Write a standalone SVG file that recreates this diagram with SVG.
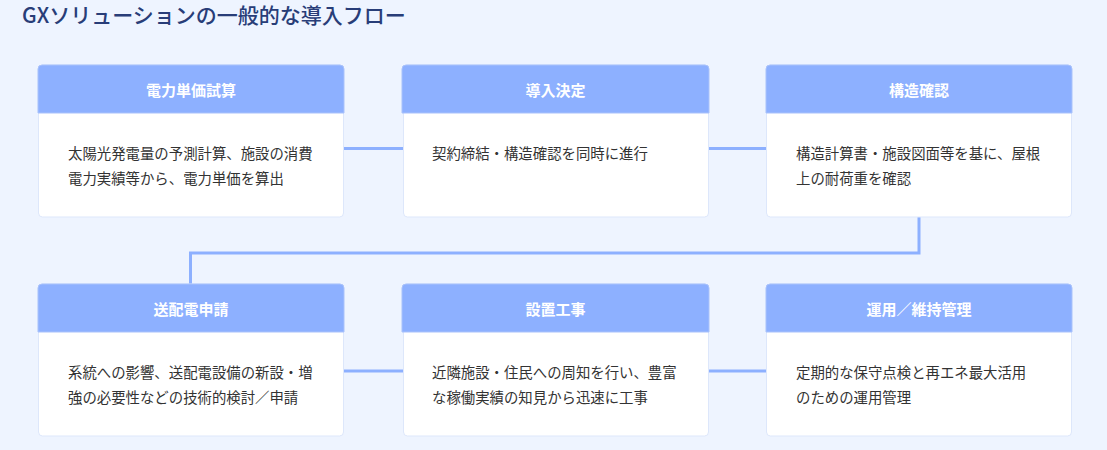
<svg xmlns="http://www.w3.org/2000/svg" width="1107" height="450" viewBox="0 0 1107 450">
<style>
.card{fill:#ffffff;stroke:#dde7fb;stroke-width:1}
.head{fill:#8db0ff;stroke:#a9c2fb;stroke-width:1}
.ht{font-family:"Noto Sans CJK JP","Noto Sans",sans-serif;font-size:15px;font-weight:700;fill:#ffffff;text-anchor:middle}
.bt{font-family:"Noto Sans CJK JP","Noto Sans",sans-serif;font-size:14.4px;fill:#333333}
.title{font-family:"Noto Sans CJK JP","Noto Sans",sans-serif;font-size:21px;font-weight:500;fill:#283d78}
.conn{fill:none;stroke:#8db0ff;stroke-width:3}
</style>
<rect x="0" y="0" width="1107" height="450" fill="#eef4ff"/>
<text class="title" x="22" y="23">GXソリューションの一般的な導入フロー</text>
<g id="connectors">
<line class="conn" x1="344" y1="148.5" x2="403" y2="148.5"/>
<line class="conn" x1="709" y1="148.5" x2="766" y2="148.5"/>
<polyline class="conn" points="919,217 919,253 190.5,253 190.5,284"/>
<line class="conn" x1="344" y1="371" x2="403" y2="371"/>
<line class="conn" x1="709" y1="371" x2="766" y2="371"/>
</g>
<g id="n1">
<rect class="card" x="38.5" y="65" width="305" height="152" rx="4"/>
<path class="head" d="M38,113 V69 a4,4 0 0 1 4,-4 H340 a4,4 0 0 1 4,4 V113 Z"/>
<text class="ht" x="191" y="96">電力単価試算</text>
<text class="bt" x="68" y="158.5">太陽光発電量の予測計算、施設の消費</text>
<text class="bt" x="68" y="183.5">電力実績等から、電力単価を算出</text>
</g>
<g id="n2">
<rect class="card" x="403.5" y="65" width="305" height="152" rx="4"/>
<path class="head" d="M402,113 V69 a4,4 0 0 1 4,-4 H705 a4,4 0 0 1 4,4 V113 Z"/>
<text class="ht" x="555.5" y="96">導入決定</text>
<text class="bt" x="432" y="158.5">契約締結・構造確認を同時に進行</text>
</g>
<g id="n3">
<rect class="card" x="766.5" y="65" width="305" height="152" rx="4"/>
<path class="head" d="M766,113 V69 a4,4 0 0 1 4,-4 H1068 a4,4 0 0 1 4,4 V113 Z"/>
<text class="ht" x="919" y="96">構造確認</text>
<text class="bt" x="796" y="158.5">構造計算書・施設図面等を基に、屋根</text>
<text class="bt" x="796" y="183.5">上の耐荷重を確認</text>
</g>
<g id="n4">
<rect class="card" x="38.5" y="284" width="305" height="152" rx="4"/>
<path class="head" d="M38,332 V288 a4,4 0 0 1 4,-4 H340 a4,4 0 0 1 4,4 V332 Z"/>
<text class="ht" x="191" y="315">送配電申請</text>
<text class="bt" x="68" y="377.5">系統への影響、送配電設備の新設・増</text>
<text class="bt" x="68" y="402.5">強の必要性などの技術的検討／申請</text>
</g>
<g id="n5">
<rect class="card" x="403.5" y="284" width="305" height="152" rx="4"/>
<path class="head" d="M402,332 V288 a4,4 0 0 1 4,-4 H705 a4,4 0 0 1 4,4 V332 Z"/>
<text class="ht" x="555.5" y="315">設置工事</text>
<text class="bt" x="432" y="377.5">近隣施設・住民への周知を行い、豊富</text>
<text class="bt" x="432" y="402.5">な稼働実績の知見から迅速に工事</text>
</g>
<g id="n6">
<rect class="card" x="766.5" y="284" width="305" height="152" rx="4"/>
<path class="head" d="M766,332 V288 a4,4 0 0 1 4,-4 H1068 a4,4 0 0 1 4,4 V332 Z"/>
<text class="ht" x="919" y="315">運用／維持管理</text>
<text class="bt" x="796" y="377.5">定期的な保守点検と再エネ最大活用</text>
<text class="bt" x="796" y="402.5">のための運用管理</text>
</g>
</svg>
